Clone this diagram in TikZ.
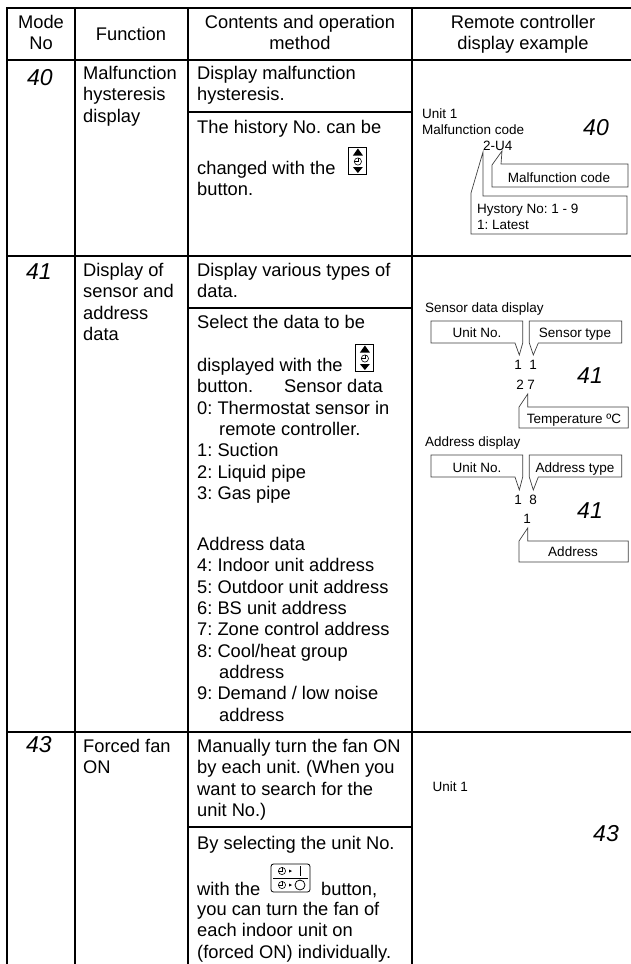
\documentclass[tikz,border=0pt]{standalone}
\usepackage{fontspec}
\setmainfont{Liberation Sans}
\usetikzlibrary{
    positioning,           % Relative positioning
    calc                   % Coordinate calculations
}

\newcommand{\bodyfont}{\fontsize{18.3}{21.35}\selectfont\frenchspacing}
\newcommand{\smallfont}{\fontsize{13.5}{16}\selectfont\frenchspacing}

\tikzset{
    grid/.style={line width=2.1pt,line cap=rect},
    callout/.style={draw=black!75,line width=0.7pt,line join=miter},
    cell/.style={anchor=north west,inner sep=0pt,align=left,font=\bodyfont,execute at begin node=\strut},
    head/.style={anchor=north,inner sep=0pt,align=center,font=\bodyfont,execute at begin node=\strut},
    small/.style={anchor=base west,inner sep=0pt,font=\smallfont},
    smallmid/.style={anchor=base,inner sep=0pt,font=\smallfont},
    segnum/.style={anchor=base,inner sep=0pt,font=\fontsize{23}{23}\selectfont\itshape},
    timeclock/.pic={
        \draw[line width=0.6pt] (0,0) circle (3.6);
        \draw[line width=0.6pt] (-3.6,0) -- (0,0) -- (0,-3.6);
    },
    updownbtn/.pic={
        \draw[line width=0.9pt] (0,0) rectangle (18.4,27);
        \fill (9.4,1.5) -- (14.4,8.5) -- (4.4,8.5) -- cycle;
        \fill (9.4,26) -- (14.4,20) -- (4.4,20) -- cycle;
        \pic at (9.4,14.5) {timeclock};
    },
    onoffbtn/.pic={
        \draw[line width=0.8pt,rounded corners=2.5pt] (0,0) rectangle (39,28);
        \draw[line width=0.8pt] (2,14) -- (37,14);
        \pic at (11,7) {timeclock};
        \pic at (11,21) {timeclock};
        \fill (18,5.5) -- (21,7) -- (18,8.5) -- cycle;
        \fill (18,19.5) -- (21,21) -- (18,22.5) -- cycle;
        \draw[line width=0.8pt] (29,2) -- (29,12);
        \draw[line width=0.8pt] (29,21) circle (5);
    }
}

\begin{document}
\begin{tikzpicture}[x=1pt,y=-1pt]
    \useasboundingbox (0,0) rectangle (631,964);
    \fill[white] (0,0) rectangle (631,964);

    % table rules
    \draw[grid] (7,964) -- (7,8) -- (631,8);
    \draw[grid] (75,8) -- (75,964);
    \draw[grid] (188,8) -- (188,964);
    \draw[grid] (412,8) -- (412,964);
    \draw[grid] (7,60) -- (631,60);
    \draw[grid] (7,256) -- (631,256);
    \draw[grid] (7,732) -- (631,732);
    \draw[grid] (188,112) -- (412,112);
    \draw[grid] (188,308) -- (412,308);
    \draw[grid] (188,827) -- (412,827);

    % header
    \node[head] (hmode) at (41,15) {Mode\\No};
    \node[head] (hfunc) at (131,25) {Function};
    \node[head] (hcont) at (300,15) {Contents and operation\\method};
    \node[head] (hdisp) at (523,15) {Remote controller\\display example};

    % mode numbers
    \node[segnum] (m40) at (40,85) {40};
    \node[segnum] (m41) at (39,279) {41};
    \node[segnum] (m43) at (39,752) {43};

    % function column
    \node[cell] (f40) at (83,66) {Malfunction\\hysteresis\\display};
    \node[cell] (f41) at (83,263) {Display of\\sensor and\\address\\data};
    \node[cell] (f43) at (83,739) {Forced fan\\ON};

    % contents column
    \node[cell] (c40a) at (197,66) {Display malfunction\\hysteresis.};
    \node[cell] (c40b) at (197,118) {The history No. can be};
    \node[cell] (c40c) at (197,161) {changed with the\\button.};
    \pic at (348.5,147) {updownbtn};

    \node[cell] (c41a) at (197,263) {Display various types of\\data.};
    \node[cell] (c41b) at (197,313) {Select the data to be};
    \node[cell] (c41c) at (197,358) {displayed with the\\button.\hspace*{31pt}Sensor data\\0: Thermostat sensor in\\\hspace*{22pt}remote controller.\\1: Suction\\2: Liquid pipe\\3: Gas pipe};
    \pic at (355.5,344) {updownbtn};
    \node[cell] (c41d) at (197,537) {Address data\\4: Indoor unit address\\5: Outdoor unit address\\6: BS unit address\\7: Zone control address\\8: Cool/heat group\\\hspace*{22pt}address\\9: Demand / low noise\\\hspace*{22pt}address};

    \node[cell] (c43a) at (197,739) {Manually turn the fan ON\\by each unit. (When you\\want to search for the\\unit No.)};
    \node[cell] (c43b) at (197,834) {By selecting the unit No.};
    \node[cell] (c43c) at (197,880) {with the};
    \pic at (271,864) {onoffbtn};
    \node[cell] (c43d) at (321,880) {button,};
    \node[cell] (c43e) at (197,902) {you can turn the fan of\\each indoor unit on\\(forced ON) individually.};

    % display example, mode 40
    \node[small] (u40) at (422,118) {Unit 1};
    \node[small] (t40) at (422,134) {Malfunction code};
    \node[small] (v40) at (483,150) {2-U4};
    \node[segnum] (d40) at (596,135) {40};
    \draw[callout] (502,151) -- (501,164) -- (628,164) -- (628,187) -- (492,187) -- (492,165) -- cycle;
    \node[smallmid] (l40a) at (559,182) {Malfunction code};
    \draw[callout] (483,152) -- (483,196) -- (627,196) -- (627,234) -- (471,234) -- (471,193) -- cycle;
    \node[small] (l40b) at (477,213) {Hystory No: 1 - 9};
    \node[small] (l40c) at (477,229) {1: Latest};

    % display example, mode 41
    \node[small] (s41) at (425,312) {Sensor data display};
    \draw[callout] (431,321) -- (522.7,321) -- (522.7,343) -- (519.3,355) -- (515,343) -- (431,343) -- cycle;
    \node[smallmid] (l41a) at (477,337) {Unit No.};
    \draw[callout] (529.3,321) -- (621.7,321) -- (621.7,343) -- (538.3,343) -- (533.3,355) -- (529.3,343) -- cycle;
    \node[smallmid] (l41b) at (575,337) {Sensor type};
    \node[smallmid] (n41a) at (518,369) {1};
    \node[smallmid] (n41b) at (533,369) {1};
    \node[smallmid] (n41c) at (520,389) {2};
    \node[smallmid] (n41d) at (531,389) {7};
    \node[segnum] (d41a) at (590,383) {41};
    \draw[callout] (527.7,394) -- (527.7,407) -- (628.3,407) -- (628.3,428) -- (519,428) -- (519,407) -- cycle;
    \node[smallmid] (l41c) at (574,423) {Temperature ºC};

    \node[small] (a41) at (425,446) {Address display};
    \draw[callout] (431,455) -- (522.7,455) -- (522.7,477) -- (519.3,490) -- (515,477) -- (431,477) -- cycle;
    \node[smallmid] (l41d) at (477,472) {Unit No.};
    \draw[callout] (529.3,455) -- (621.7,455) -- (621.7,477) -- (538.3,477) -- (533.3,490) -- (529.3,477) -- cycle;
    \node[smallmid] (l41e) at (575,472) {Address type};
    \node[smallmid] (n41e) at (518,504) {1};
    \node[smallmid] (n41f) at (533,504) {8};
    \node[smallmid] (n41g) at (527,523) {1};
    \node[segnum] (d41b) at (590,518) {41};
    \draw[callout] (527.7,528) -- (527.7,541) -- (628.3,541) -- (628.3,562) -- (519,562) -- (519,541) -- cycle;
    \node[smallmid] (l41f) at (573,556) {Address};

    % display example, mode 43
    \node[small] (u43) at (432.5,791) {Unit 1};
    \node[segnum] (d43) at (606,841) {43};
\end{tikzpicture}
\end{document}
